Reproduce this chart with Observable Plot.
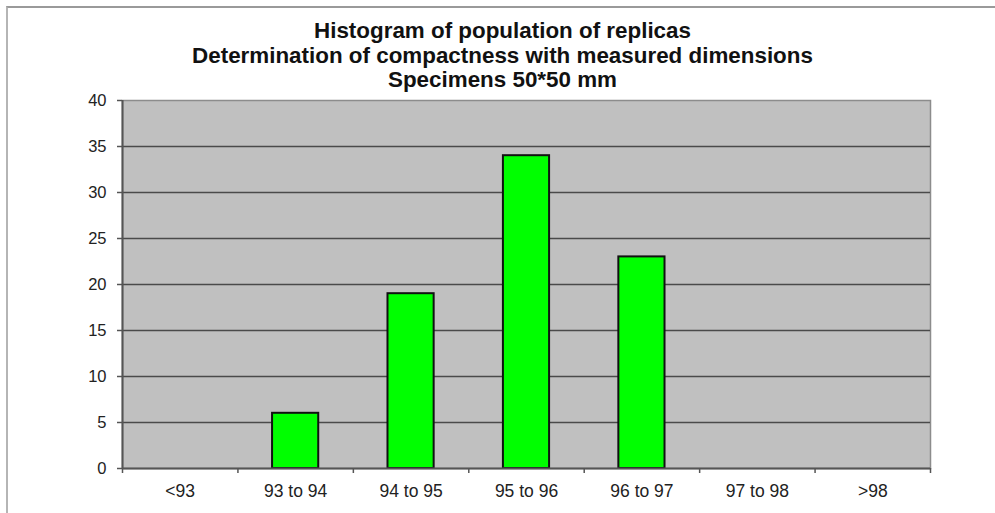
<!DOCTYPE html>
<html><head><meta charset="utf-8">
<script src="https://cdn.jsdelivr.net/npm/d3@7"></script>
<script src="https://cdn.jsdelivr.net/npm/@observablehq/plot@0.6"></script>
<style>
body{margin:0;background:#fff;}
#wrap{position:relative;width:995px;height:513px;overflow:hidden;font-family:"Liberation Sans",Arial,sans-serif;}
#border{position:absolute;left:6px;top:6px;width:1000px;height:520px;border-top:2px solid #9a9a9a;border-left:2px solid #b5b5b5;}
#title{position:absolute;left:0;width:1005px;top:19px;text-align:center;font-weight:bold;font-size:22.4px;line-height:24.5px;color:#111;}
#chart{position:absolute;left:0;top:0;}
#chart svg text{fill:#222;}
</style></head>
<body>
<div id="wrap">
  <div id="border"></div>
  <div id="title"></div>
  <div id="chart"></div>
</div>
<script>
const titleLines = ["Histogram of population of replicas", "Determination of compactness with measured dimensions", "Specimens 50*50 mm"];
const categories = ["<93", "93 to 94", "94 to 95", "95 to 96", "96 to 97", "97 to 98", ">98"];
const counts = [0, 6, 19, 34, 23, 0, 0];
const yTicks = [0, 5, 10, 15, 20, 25, 30, 35, 40];

document.getElementById("title").innerHTML = titleLines.map(t => `<div>${t}</div>`).join("");

const data = categories.map((c, i) => ({i, category: c, count: counts[i]}));
const idx = categories.map((c, i) => i);
const bounds = d3.range(categories.length + 1).map(i => i - 0.5);

const chart = Plot.plot({
  width: 995,
  height: 513,
  marginLeft: 122,
  marginRight: 65,
  marginTop: 100,
  marginBottom: 45,
  style: {fontFamily: "Liberation Sans, Arial, sans-serif", fontSize: "16px", color: "#222", background: "transparent"},
  x: {type: "linear", domain: [-0.5, categories.length - 0.5]},
  y: {domain: [0, 40]},
  marks: [
    Plot.frame({fill: "#c0c0c0", stroke: "#8c8c8c", strokeWidth: 1.5}),
    Plot.ruleY(yTicks.filter(v => v > 0 && v < 40), {stroke: "#4a4a4a", strokeWidth: 1.5}),
    Plot.rectY(data.filter(d => d.count > 0), {x1: d => d.i - 0.2, x2: d => d.i + 0.2, y1: 0, y2: "count", fill: "#00ff00", stroke: "#111", strokeWidth: 2}),
    Plot.ruleY([0], {stroke: "#555", strokeWidth: 2}),
    Plot.ruleX([-0.5], {stroke: "#555", strokeWidth: 2}),
    Plot.axisY({ticks: yTicks, tickSize: 5, tickPadding: 11, stroke: "#555", strokeWidth: 1.5, label: null, fontSize: 16.5, tickFormat: d => String(d)}),
    Plot.axisX({ticks: bounds, tickSize: 5, tickFormat: () => "", stroke: "#555", strokeWidth: 1.5, label: null}),
    Plot.axisX({ticks: idx, tickSize: 0, tickPadding: 16, fontSize: 17.5, tickFormat: i => categories[i], label: null})
  ]
});
document.getElementById("chart").appendChild(chart);
</script>
</body></html>
